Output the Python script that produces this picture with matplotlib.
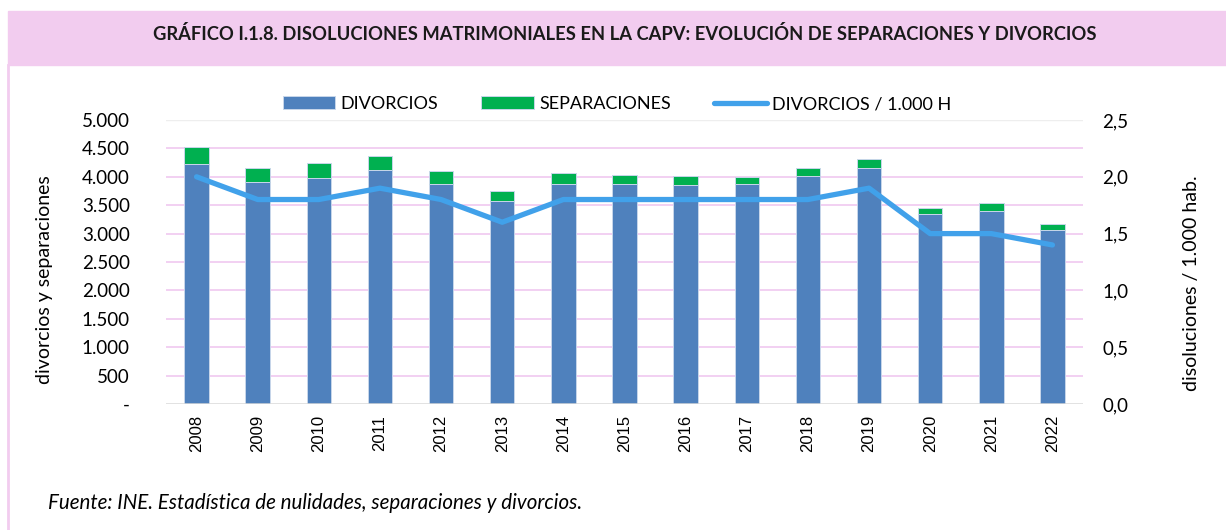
import matplotlib.pyplot as plt
import matplotlib.patches as mpatches
import matplotlib.lines as mlines
import numpy as np

years = ['2008', '2009', '2010', '2011', '2012', '2013', '2014', '2015',
         '2016', '2017', '2018', '2019', '2020', '2021', '2022']
divorcios = [4224, 3900, 3971, 4124, 3865, 3576, 3882, 3871,
             3859, 3865, 4018, 4147, 3347, 3406, 3071]
separaciones = [305, 259, 264, 235, 241, 177, 189, 153,
                147, 135, 129, 165, 106, 141, 94]
tasa = [2.0, 1.8, 1.8, 1.9, 1.8, 1.6, 1.8, 1.8,
        1.8, 1.8, 1.8, 1.9, 1.5, 1.5, 1.4]

left_ticks = list(range(0, 5001, 500))
right_ticks = [0.0, 0.5, 1.0, 1.5, 2.0, 2.5]

BLUE = '#4F81BD'
GREEN = '#00B050'
LINE = '#41A1EA'
PINK = '#F2CCEF'
GRID = '#F0C8F0'

plt.rcParams['font.family'] = ['Lato', 'DejaVu Sans']

W, H = 1226, 530
fig = plt.figure(figsize=(W / 100, H / 100), dpi=100)

# header band and left frame line
fig.patches.append(mpatches.Rectangle((8 / W, 1 - 65 / H), 1, 54 / H,
                                      transform=fig.transFigure, color=PINK, zorder=0))
fig.lines.append(mlines.Line2D([8 / W, 8 / W], [0, 1 - 65 / H], transform=fig.transFigure,
                               color=PINK, lw=2))
fig.text(625 / W, 1 - 34 / H,
         'GRÁFICO I.1.8. DISOLUCIONES MATRIMONIALES EN LA CAPV: EVOLUCIÓN DE SEPARACIONES Y DIVORCIOS',
         ha='center', va='center', fontsize=13.2, fontweight='bold', color='#1a1a1a')

ax = fig.add_axes([166 / W, 1 - 404 / H, (1083 - 166) / W, (404 - 120) / H])
ax2 = ax.twinx()
ax.set_zorder(ax2.get_zorder() - 1)
ax.patch.set_visible(True)
ax2.patch.set_visible(False)

x = np.arange(len(years))
ax.bar(x, divorcios, width=0.4, color=BLUE, edgecolor='#C8D6EA', linewidth=0.7,
       label='DIVORCIOS', zorder=3)
ax.bar(x, separaciones, width=0.4, bottom=divorcios, color=GREEN, edgecolor='#C8D6EA',
       linewidth=0.7, label='SEPARACIONES', zorder=3)
ax2.plot(x, tasa, color=LINE, lw=3.8, solid_capstyle='round', solid_joinstyle='round',
         label='DIVORCIOS / 1.000 H', zorder=4)

ax.set_xlim(-0.5, len(years) - 0.5)
ax.set_ylim(0, 5000)
ax2.set_ylim(0, 2.5)

for t in left_ticks[1:-1]:
    ax.axhline(t, color=GRID, lw=1.2, zorder=1)
ax.axhline(5000, color='#EEEEEE', lw=1, zorder=1)
ax.axhline(0, color='#D9D9D9', lw=1.8, zorder=5)

ax.set_yticks(left_ticks)
ax.set_yticklabels(['-' if v == 0 else f'{v:,}'.replace(',', '.') for v in left_ticks])
ax2.set_yticks(right_ticks)
ax2.set_yticklabels([f'{v:.1f}'.replace('.', ',') for v in right_ticks])
ax.set_xticks(x)
ax.set_xticklabels(years, rotation=90, family='Liberation Sans', fontsize=12)

ax.tick_params(axis='y', length=0, pad=26, labelsize=13.5)
ax2.tick_params(axis='y', length=0, pad=14, labelsize=13.5)
ax.tick_params(axis='x', length=0, pad=8)

for a in (ax, ax2):
    for s in a.spines.values():
        s.set_visible(False)

fig.text(45 / W, 1 - 280 / H, 'divorcios y separaciones', rotation=90,
         ha='center', va='center', fontsize=14)
fig.text(1192 / W, 1 - 283 / H, 'disoluciones / 1.000 hab.', rotation=90,
         ha='center', va='center', fontsize=14)

h1, l1 = ax.get_legend_handles_labels()
h2, l2 = ax2.get_legend_handles_labels()
fig.legend(h1 + h2, l1 + l2, loc='center', bbox_to_anchor=(617 / W, 1 - 104 / H),
           ncol=3, frameon=False, fontsize=13, handlelength=2.9, handleheight=0.75,
           handletextpad=0.3, columnspacing=2.4)

fig.text(48 / W, 1 - 503 / H,
         'Fuente: INE. Estadística de nulidades, separaciones y divorcios.',
         ha='left', va='center', fontsize=14.8, style='italic')

fig.savefig('out.png', dpi=100)
